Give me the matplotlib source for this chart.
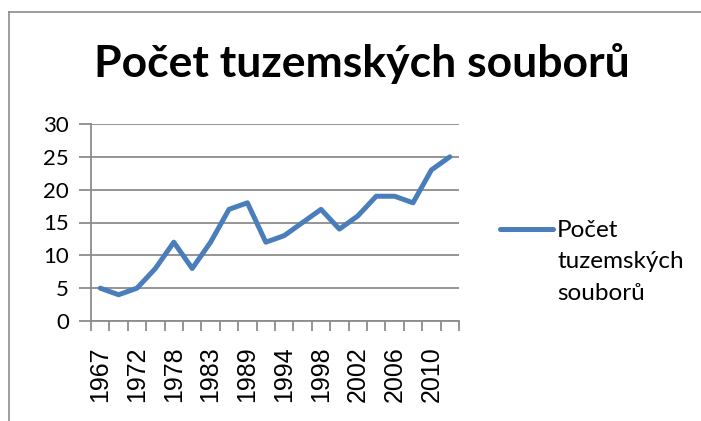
import numpy as np
import matplotlib
matplotlib.use("Agg")
import matplotlib.pyplot as plt

# Data (labels shown every other category)
years = [1967, 1970, 1972, 1975, 1978, 1981, 1983, 1986, 1989, 1992,
         1994, 1996, 1998, 2000, 2002, 2004, 2006, 2008, 2010, 2012]
counts = [5, 4, 5, 8, 12, 8, 12, 17, 18, 12,
          13, 15, 17, 14, 16, 19, 19, 18, 23, 25]
series_name = "Počet tuzemských souborů"
legend_lines = ["Počet", "tuzemských", "souborů"]
yticks = [0, 5, 10, 15, 20, 25, 30]

fig = plt.figure(figsize=(7.01, 4.21), dpi=100)
W, H = 701, 421

# Chart border (cropped: only left and top visible)
fig.add_artist(plt.Line2D([9 / W, 9 / W], [0, 1 - 12 / H], color="#8c8c8c", lw=1.2))
fig.add_artist(plt.Line2D([9 / W, 1], [1 - 12 / H, 1 - 12 / H], color="#8c8c8c", lw=1.2))

ax = fig.add_axes([91 / W, 1 - 321 / H, (459 - 91) / W, (321 - 124) / H])

x = np.arange(len(years))
ax.plot(x, counts, color="#4a7ebb", lw=3.6, solid_joinstyle="round",
        solid_capstyle="round", clip_on=False)

ax.set_xlim(-0.5, len(years) - 0.5)
ax.set_ylim(0, 30)
ax.set_yticks(yticks)
ax.set_yticklabels([str(v) for v in yticks], fontsize=16, family="Lato")
ax.yaxis.grid(True, color="#8c8c8c", lw=1.3)
ax.set_axisbelow(True)

# category ticks between categories, labels on every other category
ax.set_xticks(np.arange(-0.5, len(years), 1.0))
ax.set_xticklabels([])
ax.set_xticks(x[::2], minor=True)
ax.set_xticklabels([str(y) for y in years[::2]], minor=True, rotation=90,
                   fontsize=18, family="Liberation Sans")
ax.tick_params(axis="x", which="major", length=7, color="#8c8c8c", width=1.3)
ax.tick_params(axis="x", which="minor", length=0, pad=18)
ax.tick_params(axis="y", length=9, color="#8c8c8c", width=1.3, pad=7)

for s in ["top", "right"]:
    ax.spines[s].set_visible(False)
for s in ["left", "bottom"]:
    ax.spines[s].set_color("#8c8c8c")
    ax.spines[s].set_linewidth(1.3)

fig.text(362 / W, 1 - 77 / H, series_name, ha="center", va="baseline",
         fontsize=32, fontweight="bold", family="Lato")

# Legend drawn by hand to get the wrapped label
fig.add_artist(plt.Line2D([500 / W, 553 / W], [1 - 229 / H, 1 - 229 / H],
                          color="#4a7ebb", lw=3.6, solid_capstyle="round"))
for i, t in enumerate(legend_lines):
    fig.text(557 / W, 1 - (237 + 31.5 * i) / H, t, ha="left", va="baseline",
             fontsize=17.5, family="Lato")

fig.savefig("out.png", dpi=100)
